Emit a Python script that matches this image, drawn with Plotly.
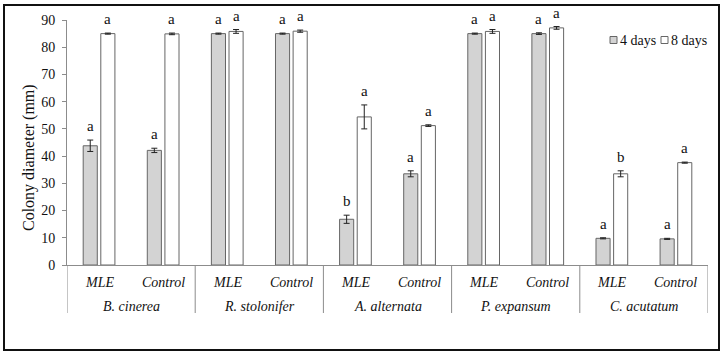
import plotly.graph_objects as go

groups = ["B. cinerea", "R. stolonifer", "A. alternata", "P. expansum", "C. acutatum"]
subs = ["MLE", "Control"]

days4 = [43.8, 42.1, 85.0, 85.0, 16.8, 33.5, 85.0, 85.0, 9.8, 9.6]
days4_err = [2.1, 0.8, 0.2, 0.2, 1.5, 1.1, 0.2, 0.3, 0.2, 0.2]
days8 = [85.0, 84.9, 85.8, 85.9, 54.4, 51.2, 85.8, 87.1, 33.5, 37.6]
days8_err = [0.2, 0.3, 0.7, 0.4, 4.4, 0.3, 0.7, 0.5, 1.1, 0.2]
letters4 = ["a", "a", "a", "a", "b", "a", "a", "a", "a", "a"]
letters8 = ["a", "a", "a", "a", "a", "a", "a", "a", "b", "a"]
series_names = ["4 days", "8 days"]
series_colors = ["#d3d3d3", "#ffffff"]

y_ticks = [0, 10, 20, 30, 40, 50, 60, 70, 80, 90]

n_sub = len(subs)
xpos = list(range(len(groups) * n_sub))
sub_labels = [s for _ in groups for s in subs]

FONT = "Liberation Serif"
BARGAP = 0.45
BARGROUPGAP = 0.2
OUTLINE = "#666666"
AXIS = "#8c8c8c"
PLOT_W, PLOT_H = 641, 245

fig = go.Figure()
for vals, errs, name, col in ((days4, days4_err, series_names[0], series_colors[0]),
                              (days8, days8_err, series_names[1], series_colors[1])):
    fig.add_trace(go.Bar(
        x=xpos, y=vals, name=name, showlegend=False,
        marker=dict(color=col, line=dict(color=OUTLINE, width=1)),
        error_y=dict(type="data", array=errs, color="#222222", thickness=1, width=3),
    ))

off = (1 - BARGAP) / 4
annotations = []
for i in xpos:
    for val, err, let, dx in ((days4[i], days4_err[i], letters4[i], -off),
                              (days8[i], days8_err[i], letters8[i], off)):
        annotations.append(dict(
            x=i + dx, y=val + err, xref="x", yref="y", text=let,
            showarrow=False, yanchor="bottom", yshift=4,
            font=dict(family=FONT, size=15, color="#111111"),
        ))

# category labels (two rows) below the axis
for i, lab in zip(xpos, sub_labels):
    annotations.append(dict(x=i, y=0, xref="x", yref="paper", text="<i>%s</i>" % lab,
                            showarrow=False, yanchor="middle", yshift=-17,
                            font=dict(family=FONT, size=14, color="#111111")))
for g, name in enumerate(groups):
    annotations.append(dict(x=g * n_sub + (n_sub - 1) / 2, y=0, xref="x", yref="paper",
                            text="<i>%s</i>" % name, showarrow=False, yanchor="middle",
                            yshift=-41, font=dict(family=FONT, size=14, color="#111111")))

annotations.append(dict(
    x=-38 / PLOT_W, y=(265 - 158) / PLOT_H, xref="paper", yref="paper",
    text="Colony diameter (mm)", textangle=-90, showarrow=False,
    xanchor="center", yanchor="middle",
    font=dict(family=FONT, size=16, color="#111111"),
))

shapes = [dict(type="rect", xref="paper", yref="paper",
               x0=-63 / PLOT_W, x1=652 / PLOT_W, y0=-85 / PLOT_H, y1=260 / PLOT_H,
               line=dict(color="#111111", width=2), fillcolor="rgba(0,0,0,0)")]
# group dividers
for g in range(len(groups) + 1):
    shapes.append(dict(type="line", xref="x", yref="paper",
                       x0=g * n_sub - 0.5, x1=g * n_sub - 0.5, y0=0, y1=-48 / PLOT_H,
                       line=dict(color=AXIS, width=1)))

# compact legend (square swatch + label) at top right
legend_x = [543 / PLOT_W, 594 / PLOT_W]
sw = 7 / PLOT_W
sh = 7 / PLOT_H
ly = (265 - 40) / PLOT_H
for lx, name, col in zip(legend_x, series_names, series_colors):
    shapes.append(dict(type="rect", xref="paper", yref="paper",
                       x0=lx, x1=lx + sw, y0=ly - sh / 2, y1=ly + sh / 2,
                       line=dict(color=OUTLINE, width=1), fillcolor=col))
    annotations.append(dict(x=lx + sw + 1 / PLOT_W, y=ly, xref="paper", yref="paper",
                            text=name, showarrow=False, xanchor="left", yanchor="middle",
                            font=dict(family=FONT, size=14, color="#111111")))

fig.update_layout(
    width=724, height=357,
    margin=dict(l=67, r=16, t=20, b=92),
    paper_bgcolor="white", plot_bgcolor="white",
    barmode="group", bargap=BARGAP, bargroupgap=BARGROUPGAP,
    font=dict(family=FONT, size=14, color="#111111"),
    showlegend=False,
    annotations=annotations,
    shapes=shapes,
)
fig.update_xaxes(
    range=[-0.5, len(xpos) - 0.5], showline=True, linecolor=AXIS, linewidth=1,
    ticks="", showticklabels=False, showgrid=False, zeroline=False,
)
fig.update_yaxes(
    range=[0, 90], tickvals=y_ticks, showline=True, linecolor=AXIS, linewidth=1,
    ticks="outside", ticklen=4, tickcolor=AXIS, showgrid=False, zeroline=False,
    tickfont=dict(family=FONT, size=14, color="#111111"), ticklabelstandoff=4,
)

fig.write_html("out.html")
